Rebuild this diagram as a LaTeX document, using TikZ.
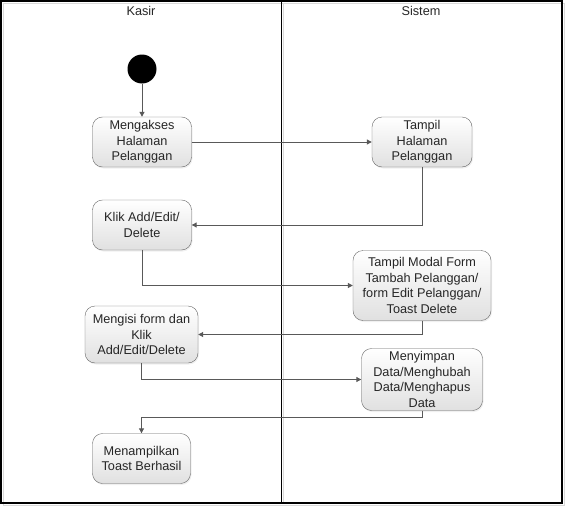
\documentclass[tikz,border=0pt]{standalone}
\usepackage{fontspec}
\setmainfont{Liberation Sans}
\usetikzlibrary{arrows.meta}
\usetikzlibrary{positioning, shapes.misc, shadows}
\tikzset{
activity/.style = { rectangle, draw = black!60, top color = white, bottom color = black!12, rounded corners = 10pt, align = center, text = black!85, font = \fontsize{12.7}{15.5}\selectfont, inner sep = 0pt, drop shadow = {opacity = 0.12, shadow xshift = 1pt, shadow yshift = -1.5pt} },
start/.style = { circle, fill = black, minimum size = 29pt, inner sep = 0pt },
flow/.style = { draw = black!65, line width = 1pt, -{Triangle[length = 5pt, width = 5pt]} },
lane title/.style = { font = \fontsize{12.7}{15.5}\selectfont, text = black!85 },
}

\begin{document}
\begin{tikzpicture}[x = 1pt, y = -1pt]
    \useasboundingbox (0, 0) rectangle (565, 506);
    % swimlanes
    \draw[black!15, line width = 1pt] (3, 3) rectangle (564, 505);
    \draw[black!15, line width = 1pt] (283.5, 3) -- (283.5, 503);
    \draw[black, line width = 1.2pt] (1, 1) rectangle (562, 503);
    \draw[black, line width = 1.2pt] (281.7, 1) -- (281.7, 503);
    \node[lane title] (kasir) at (141, 11) {Kasir};
    \node[lane title] (sistem) at (421, 11) {Sistem};
    % activities
    \node[start] (start) at (142, 69) {};
    \node[activity, minimum width = 99pt, minimum height = 50pt] (mengakses) at (142, 142) {Mengakses\\Halaman\\Pelanggan};
    \node[activity, minimum width = 100pt, minimum height = 50pt] (tampil) at (422, 142) {Tampil\\Halaman\\Pelanggan};
    \node[activity, minimum width = 99pt, minimum height = 50pt] (klik) at (142, 225) {Klik Add/Edit/\\Delete};
    \node[activity, minimum width = 138pt, minimum height = 70pt] (modal) at (422, 285.5) {Tampil Modal Form\\Tambah Pelanggan/\\form Edit Pelanggan/\\Toast Delete};
    \node[activity, minimum width = 113pt, minimum height = 57pt] (mengisi) at (141.5, 334.5) {Mengisi form dan\\Klik\\Add/Edit/Delete};
    \node[activity, minimum width = 121pt, minimum height = 62pt] (simpan) at (422, 379.5) {Menyimpan\\Data/Menghubah\\Data/Menghapus\\Data};
    \node[activity, minimum width = 98pt, minimum height = 50pt] (toast) at (141.5, 458.5) {Menampilkan\\Toast Berhasil};
    \coordinate (bend) at (422, 417.5);
    % flows
    \draw[flow] (start) -- (mengakses);
    \draw[flow] (mengakses) -- (tampil);
    \draw[flow] (tampil.south) |- (klik.east);
    \draw[flow] (klik.south) |- (modal.west);
    \draw[flow] (modal.south) |- (mengisi.east);
    \draw[flow] (mengisi.south) |- (simpan.west);
    \draw[flow] (simpan.south) -- (bend) -| (toast.north);
\end{tikzpicture}
\end{document}
